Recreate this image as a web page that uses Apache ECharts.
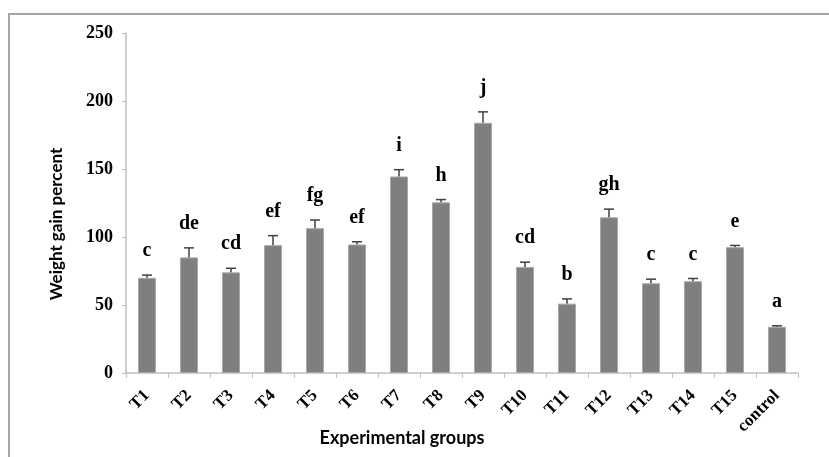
<!DOCTYPE html>
<html>
<head>
<meta charset="utf-8">
<script src="https://cdn.jsdelivr.net/npm/echarts@6/dist/echarts.min.js"></script>
<style>html,body{margin:0;padding:0;background:#fff;}#c{width:829px;height:457px;}</style>
</head>
<body>
<div id="c"></div>
<script>
var categories = ['T1','T2','T3','T4','T5','T6','T7','T8','T9','T10','T11','T12','T13','T14','T15','control'];
var values = [70, 85, 74, 94, 106.5, 94.5, 144.5, 125.5, 184, 78, 51, 114.5, 66, 67.5, 92.5, 34];
var errors = [2, 7, 3, 7, 6, 2, 5, 2, 8, 3.5, 3.5, 6, 3, 2, 1.3, 0.7];
var letters = ['c','de','cd','ef','fg','ef','i','h','j','cd','b','gh','c','c','e','a'];
var yTicks = [0, 250, 50];

var chart = echarts.init(document.getElementById('c'));
var serif = 'Liberation Serif';
var errData = values.map(function (v, i) { return [i, v, v + errors[i], letters[i]]; });

chart.setOption({
  animation: false,
  backgroundColor: '#fff',
  grid: { left: 126, right: 31, top: 33, bottom: 84 },
  graphic: [
    { type: 'rect', shape: { x: 9, y: 14, width: 840, height: 470 }, style: { fill: 'none', stroke: '#a6a6a6', lineWidth: 2 }, silent: true },
    { type: 'text', x: 57, y: 224, rotation: Math.PI / 2, style: { text: 'Weight gain percent', fontFamily: 'Lato', fontWeight: 'bold', fontSize: 17, fill: '#000', align: 'center', verticalAlign: 'middle' } },
    { type: 'text', x: 402, y: 438, style: { text: 'Experimental groups', fontFamily: 'Lato', fontWeight: 'bold', fontSize: 18, fill: '#000', align: 'center', verticalAlign: 'middle' } }
  ],
  xAxis: {
    type: 'category',
    data: categories,
    axisLine: { lineStyle: { color: '#bfbfbf', width: 1.5 } },
    axisTick: { show: true, interval: 0, length: 5, lineStyle: { color: '#bfbfbf' } },
    axisLabel: { interval: 0, rotate: 45, margin: 20, color: '#000', fontFamily: serif, fontWeight: 'bold', fontSize: 17 }
  },
  yAxis: {
    type: 'value',
    min: yTicks[0], max: yTicks[1], interval: yTicks[2],
    axisLine: { show: true, lineStyle: { color: '#bfbfbf', width: 1.5 } },
    axisTick: { show: true, length: 4, lineStyle: { color: '#bfbfbf' } },
    splitLine: { show: false },
    axisLabel: { margin: 13, color: '#000', fontFamily: serif, fontWeight: 'bold', fontSize: 18 }
  },
  series: [
    {
      type: 'bar',
      data: values,
      barWidth: 18,
      itemStyle: { color: '#7f7f7f', borderColor: '#a8a8a8', borderWidth: 1 }
    },
    {
      type: 'custom',
      data: errData,
      encode: { x: 0, y: 2 },
      z: 5,
      renderItem: function (params, api) {
        var i = api.value(0);
        var base = api.coord([i, api.value(1)]);
        var top = api.coord([i, api.value(2)]);
        var lt = letters[params.dataIndex];
        return {
          type: 'group',
          children: [
            { type: 'line', shape: { x1: top[0], y1: base[1], x2: top[0], y2: top[1] }, style: { stroke: '#404040', lineWidth: 1.5 } },
            { type: 'line', shape: { x1: top[0] - 5, y1: top[1], x2: top[0] + 5, y2: top[1] }, style: { stroke: '#404040', lineWidth: 1.5 } },
            { type: 'text', x: top[0], y: top[1] - 24, style: { text: lt, fontFamily: serif, fontWeight: 'bold', fontSize: 20, fill: '#000', align: 'center', verticalAlign: 'middle' } }
          ]
        };
      }
    }
  ]
});
</script>
</body>
</html>
